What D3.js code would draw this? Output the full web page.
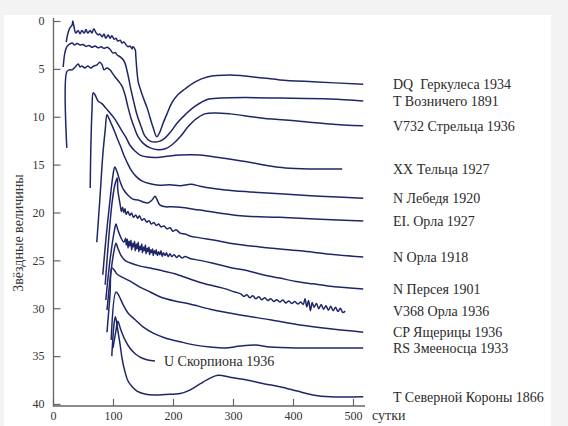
<!DOCTYPE html>
<html>
<head>
<meta charset="utf-8">
<script src="https://cdn.jsdelivr.net/npm/d3@7"></script>
<style>
body{margin:0;background:#f3f3f3;}
svg{display:block;}
</style>
</head>
<body>
<svg id="chart" width="568" height="426"></svg>
<script>
// names of the novae, top to bottom
var names = ["DQ  Геркулеса 1934", "T Возничего 1891", "V732 Стрельца 1936", "XX Тельца 1927",
    "N Лебедя 1920", "EI. Орла 1927", "N Орла 1918", "N Персея 1901", "V368 Орла 1936",
    "CP Ящерицы 1936", "RS Змееносца 1933", "U Скорпиона 1936", "T Северной Короны 1866"];

// [days, magnitude] (curves are shifted vertically as in the figure)
var dqHer = [[22,2.2],[25,1.25],[28,0.75],[32,0.4],[33,0.0],[35,0.6],[38,1.25],[42,1.0],[45,1.35],[48,1.0],[52,1.25],[55,0.9],[58,1.25],[62,1.0],[65,1.25],[68,0.8],[72,1.25],[75,1.45],[78,1.35],[82,1.65],[85,1.35],[88,1.8],[92,1.45],[95,1.8],[98,1.55],[102,1.9],[105,1.8],[108,2.1],[112,2.0],[115,2.3],[118,2.2],[122,2.5],[125,2.7],[128,2.6],[132,2.9],[133,2.7],[137,3.0],[138,3.65],[140,5.3],[142,6.35],[145,7.0],[150,7.95],[157,9.1],[162,10.15],[167,11.15],[173,12.1],[178,11.6],[183,10.75],[190,9.7],[198,8.55],[208,7.7],[220,7.1],[237,6.35],[257,5.85],[295,5.65],[350,5.95],[378,6.15],[433,6.35],[517,6.6]];
var tAur = [[17,4.8],[20,3.25],[23,2.7],[28,2.4],[32,2.3],[36,2.5],[40,2.35],[45,2.5],[50,2.45],[55,2.65],[60,2.55],[65,2.75],[70,2.6],[75,2.8],[80,2.7],[85,2.85],[90,2.75],[95,2.95],[100,3.35],[104,3.3],[107,3.55],[112,3.75],[117,4.05],[120,4.4],[125,5.65],[130,7.2],[135,8.55],[140,9.8],[147,11.05],[153,12.0],[162,12.55],[170,12.65],[178,12.55],[187,12.2],[197,11.5],[207,10.65],[220,9.8],[237,8.9],[257,8.2],[280,8.05],[320,8.0],[378,8.05],[462,8.15],[517,8.35]];
var v732Sgr = [[23,13.25],[23,5.3],[27,5.1],[32,5.1],[37,4.8],[42,4.5],[45,4.8],[48,4.7],[53,4.9],[58,4.7],[63,4.9],[68,4.7],[73,4.6],[78,4.3],[82,4.6],[85,5.1],[90,4.9],[95,5.1],[100,5.55],[105,5.95],[110,6.35],[115,6.8],[120,7.7],[125,9.0],[130,10.15],[135,11.05],[142,12.1],[150,12.75],[162,13.25],[175,13.45],[187,13.35],[198,12.95],[212,12.1],[225,11.05],[238,10.25],[253,9.7],[270,9.6],[295,9.7],[350,10.15],[407,10.45],[462,10.75],[517,10.95]];
var xxTau = [[62,17.45],[63,13.45],[65,9.3],[67,7.5],[70,7.7],[75,8.35],[82,8.65],[88,9.1],[95,9.6],[102,10.15],[108,10.75],[115,11.5],[122,12.2],[128,12.95],[137,13.6],[145,14.0],[157,14.2],[170,14.25],[187,14.15],[212,14.0],[245,14.0],[270,14.2],[323,14.7],[362,15.15],[387,15.35],[428,15.45],[482,15.45]];
var nCyg = [[73,23.1],[78,18.7],[83,14.0],[87,11.4],[90,9.8],[93,10.15],[98,10.85],[103,11.6],[108,12.4],[113,13.15],[118,14.0],[123,14.7],[130,15.55],[138,16.2],[148,16.7],[162,17.0],[178,17.15],[195,17.1],[212,17.2],[230,17.05],[245,17.25],[262,17.45],[287,17.65],[328,17.85],[378,18.05],[445,18.3],[517,18.5]];
var eiAql = [[83,26.5],[88,22.9],[95,18.7],[100,16.1],[103,15.25],[107,15.8],[112,16.8],[118,17.65],[125,18.2],[133,18.6],[142,18.7],[150,18.9],[158,19.0],[165,18.7],[170,18.3],[173,18.6],[178,19.2],[187,19.4],[198,19.4],[212,19.45],[245,19.75],[312,20.35],[378,20.5],[445,20.7],[517,20.9]];
var nAql = [[87,27.55],[92,23.4],[98,19.2],[103,17.15],[107,16.4],[108,17.65],[112,19.2],[114,19.9],[116,19.45],[118,20.0],[120,19.6],[122,20.2],[125,19.9],[128,20.3],[131,20.05],[134,20.5],[138,20.25],[141,20.6],[144,20.35],[148,20.8],[152,20.65],[156,21.0],[160,20.85],[164,21.2],[168,21.05],[172,21.35],[176,21.2],[180,21.5],[185,21.4],[190,21.7],[195,21.6],[200,21.95],[205,21.8],[212,22.15],[220,22.25],[228,22.45],[245,22.65],[270,22.9],[295,23.2],[345,23.6],[412,24.0],[462,24.35],[517,24.65]];
var nPer = [[88,29.15],[95,25.0],[102,22.0],[105,21.2],[108,21.8],[113,22.6],[118,23.1],[121,22.7],[122,23.4],[124,22.8],[125,23.7],[127,23.0],[128,23.5],[130,22.9],[131,23.9],[133,23.2],[134,23.6],[136,23.0],[137,24.0],[139,23.3],[140,23.8],[142,23.1],[143,24.1],[145,23.5],[146,23.9],[148,23.3],[149,24.2],[151,23.6],[152,24.0],[154,23.4],[155,24.3],[157,23.7],[158,24.1],[160,23.6],[161,24.4],[163,23.9],[164,24.2],[166,23.8],[167,24.5],[169,24.0],[171,24.3],[172,23.9],[174,24.5],[176,24.1],[178,24.4],[180,24.0],[182,24.6],[184,24.2],[187,24.5],[189,24.2],[192,24.6],[195,24.3],[198,24.6],[202,24.4],[206,24.7],[210,24.5],[215,24.75],[220,24.6],[228,24.8],[245,25.0],[267,25.3],[295,25.75],[323,26.05],[350,26.5],[378,26.85],[405,27.2],[433,27.45],[462,27.7],[490,27.85],[517,28.0]];
var v368Aql = [[90,30.2],[97,26.0],[102,23.9],[105,23.2],[108,23.7],[113,24.45],[120,25.0],[128,25.25],[145,25.6],[162,25.8],[183,26.1],[203,26.4],[228,26.95],[253,27.45],[283,27.9],[303,28.3],[313,28.5],[318,28.75],[323,28.6],[328,28.9],[333,28.7],[338,29.0],[343,28.8],[348,29.1],[353,28.9],[358,29.2],[363,29.0],[368,29.3],[373,29.1],[378,29.35],[383,29.15],[388,29.45],[393,29.25],[398,29.5],[403,29.3],[408,29.55],[413,29.35],[417,29.6],[420,29.0],[423,29.85],[426,29.2],[429,30.25],[432,29.4],[435,29.9],[439,29.5],[443,30.05],[447,29.6],[451,30.1],[455,29.75],[459,30.2],[463,29.8],[467,30.25],[471,29.9],[475,30.35],[479,30.0],[483,30.45],[487,30.3]];
var cpLac = [[90,32.5],[95,28.6],[98,25.8],[102,26.0],[107,26.45],[115,26.75],[128,27.15],[145,27.8],[162,28.3],[178,28.8],[203,29.25],[228,29.55],[262,30.1],[312,30.7],[362,31.2],[412,31.75],[462,32.15],[517,32.5]];
var rsOph = [[97,33.3],[105,28.3],[110,28.7],[117,29.65],[125,30.5],[137,31.2],[150,31.95],[167,32.6],[187,33.1],[212,33.5],[237,33.85],[262,34.05],[287,34.15],[312,33.95],[337,33.85],[362,34.05],[412,34.15],[517,34.15]];
var uSco = [[100,34.15],[105,32.3],[108,31.35],[113,32.25],[120,33.3],[128,34.15],[138,34.8],[148,35.2],[158,35.4],[170,35.5]];
var tCrB = [[98,35.0],[102,31.5],[104,30.9],[108,32.3],[112,33.85],[115,35.2],[120,36.65],[125,37.6],[132,38.2],[140,38.65],[153,38.95],[170,39.05],[187,39.0],[212,38.9],[228,38.55],[245,37.9],[262,37.3],[275,37.0],[295,37.2],[323,37.5],[353,37.9],[378,38.2],[407,38.65],[433,39.05],[462,39.25],[517,39.25]];

var series = [dqHer, tAur, v732Sgr, xxTau, nCyg, eiAql, nAql, nPer, v368Aql, cpLac, rsOph, uSco, tCrB];

var xTicks = [0, 100, 200, 300, 400, 500];
var yTicks = [0, 5, 10, 15, 20, 25, 30, 35, 40];

var serif = "'Liberation Serif', 'DejaVu Serif', serif";
var svg = d3.select("#chart").attr("font-family", serif);
var ink = "#1f2668";

svg.append("rect").attr("x", 4).attr("y", 15).attr("width", 547).attr("height", 411).attr("fill", "#fff");

var x = d3.scaleLinear().domain([0, 500]).range([53, 353]);
var y = d3.scaleLinear().domain([0, 40]).range([21, 404]);

// axes: ticks point inwards
var yAxis = svg.append("g").attr("transform", "translate(53.5,0)")
    .call(d3.axisLeft(y).tickValues(yTicks).tickSizeInner(-7).tickSizeOuter(0).tickPadding(9));
var xAxis = svg.append("g").attr("transform", "translate(0,406)")
    .call(d3.axisBottom(x).tickValues(xTicks).tickSizeInner(-7).tickSizeOuter(0).tickPadding(5));

[yAxis, xAxis].forEach(function(g){
    g.attr("font-family", serif).attr("font-size", 12);
    g.select(".domain").remove();
    g.selectAll(".tick line").attr("stroke", "#666").attr("stroke-width", 1.2);
    g.selectAll(".tick text").attr("fill", "#333");
});
svg.append("line").attr("x1", 53.5).attr("x2", 53.5).attr("y1", 18).attr("y2", 406.5)
    .attr("stroke", "#666").attr("stroke-width", 1.3);
svg.append("line").attr("x1", 53).attr("x2", 365).attr("y1", 406).attr("y2", 406)
    .attr("stroke", "#666").attr("stroke-width", 1.3);

svg.append("text").attr("x", 372).attr("y", 420).attr("font-size", 14).attr("fill", "#333").text("сутки");
svg.append("text").attr("transform", "translate(23,233) rotate(-90)").attr("text-anchor", "middle")
    .attr("font-size", 14).attr("fill", "#333").text("Звёздные величины");

var line = d3.line()
    .x(function(d){ return x(d[0]); })
    .y(function(d){ return y(d[1]); })
    .curve(d3.curveCatmullRom.alpha(0.5));

svg.selectAll("path.nova")
    .data(series)
    .enter()
    .append("path")
    .attr("class", "nova")
    .attr("d", line)
    .attr("fill", "none")
    .attr("stroke", ink)
    .attr("stroke-width", 1.5)
    .attr("stroke-linejoin", "round");

// labels next to the end of each curve
svg.selectAll("text.name")
    .data(series)
    .enter()
    .append("text")
    .attr("class", "name")
    .attr("x", function(d, i){ return names[i].indexOf("Скорпиона") >= 0 ? x(d[d.length-1][0]) + 9 : 393; })
    .attr("y", function(d){ return y(d[d.length-1][1]); })
    .attr("dy", "0.35em")
    .attr("font-size", 14)
    .attr("fill", "#2a2a2a")
    .style("white-space", "pre")
    .text(function(d, i){ return names[i]; });
</script>
</body>
</html>
